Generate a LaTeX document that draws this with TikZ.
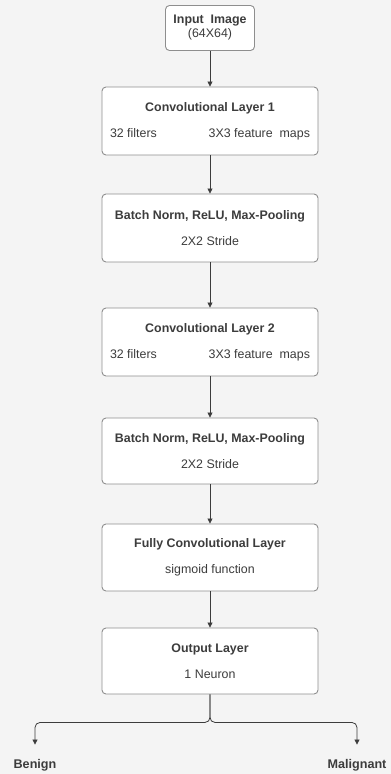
\documentclass[tikz,border=0pt]{standalone}
\usepackage{fontspec}
\setmainfont{Liberation Sans}
\usetikzlibrary{arrows.meta}

\definecolor{bgcol}{HTML}{F4F4F4}
\definecolor{edgecol}{HTML}{8E8E8E}
\definecolor{inkcol}{HTML}{3C3C3C}

\tikzset{
  layer/.style={draw=edgecol, fill=white, rounded corners=4pt, line width=0.9pt,
    minimum width=216pt, minimum height=68pt, inner sep=0pt, align=center,
    text=inkcol, font=\fontsize{12.4}{14}\selectfont},
  flow/.style={draw=inkcol, line width=0.8pt, -{Triangle[width=5pt,length=5pt]}},
  classlbl/.style={text=inkcol, font=\bfseries\fontsize{12.6}{14}\selectfont}
}

\begin{document}
\begin{tikzpicture}[x=1pt,y=-1pt]
  \fill[bgcol] (0,0) rectangle (391,774);
  \useasboundingbox (0,0) rectangle (391,774);

  % the layer stack
  \node[layer, minimum width=89pt, minimum height=45pt] (input) at (210,28)
    {\textbf{Input\ \ Image}\\(64X64)};
  \node[layer] (conv1) at (210,121)
    {\textbf{Convolutional Layer 1}\\[12pt]\makebox[200pt]{32 filters\hfill 3X3 feature\ \ maps}};
  \node[layer] (pool1) at (210,228)
    {\textbf{Batch Norm, ReLU, Max-Pooling}\\[12pt]2X2 Stride};
  \node[layer] (conv2) at (210,342)
    {\textbf{Convolutional Layer 2}\\[12pt]\makebox[200pt]{32 filters\hfill 3X3 feature\ \ maps}};
  \node[layer, minimum height=66pt] (pool2) at (210,451)
    {\textbf{Batch Norm, ReLU, Max-Pooling}\\[12pt]2X2 Stride};
  \node[layer, minimum height=67pt] (fc) at (210,557.5)
    {\textbf{Fully Convolutional Layer}\\[12pt]sigmoid function};
  \node[layer, minimum height=66pt] (out) at (210,661)
    {\textbf{Output Layer}\\[12pt]1 Neuron};

  % class labels
  \node[classlbl] (benign) at (35,765) {Benign};
  \node[classlbl] (malig) at (357,765) {Malignant};

  \draw[flow] (input) -- (conv1);
  \draw[flow] (conv1) -- (pool1);
  \draw[flow] (pool1) -- (conv2);
  \draw[flow] (conv2) -- (pool2);
  \draw[flow] (pool2) -- (fc);
  \draw[flow] (fc) -- (out);

  % split into the two classes
  \draw[flow, rounded corners=5pt] (out.south) -- ++(0,28) -| ([yshift=11pt]benign.north);
  \draw[flow, rounded corners=5pt] (out.south) -- ++(0,28) -| ([yshift=11pt]malig.north);
\end{tikzpicture}
\end{document}
